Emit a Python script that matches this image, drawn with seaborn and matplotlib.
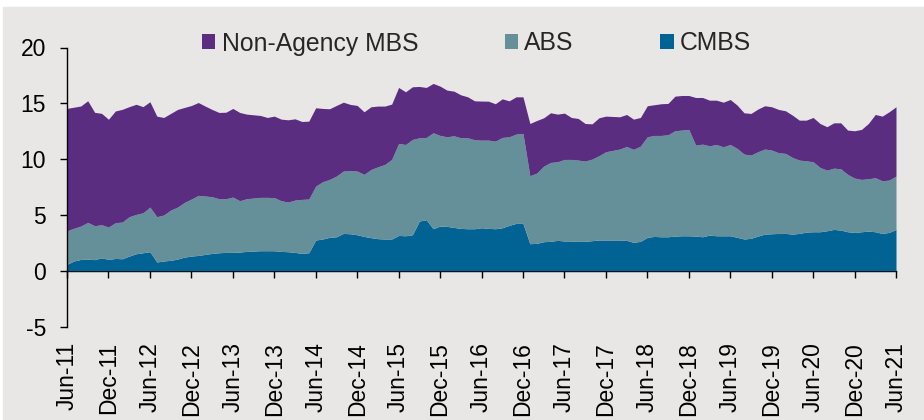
import numpy as np
import pandas as pd
import matplotlib.pyplot as plt
import seaborn as sns
from matplotlib.patches import Patch, Rectangle

# Monthly data, Jun-11 .. Jun-21 (121 months)
cmbs = [
    0.57, 0.87, 1.01, 1.04, 0.99, 1.16, 1.01, 1.10, 1.07, 1.31, 1.52, 1.61,
    1.70, 0.78, 0.87, 0.93, 1.04, 1.22, 1.31, 1.37, 1.46, 1.55, 1.61, 1.64,
    1.64, 1.67, 1.73, 1.76, 1.79, 1.79, 1.79, 1.73, 1.70, 1.64, 1.55, 1.61,
    2.75, 2.84, 2.99, 3.04, 3.34, 3.31, 3.22, 3.07, 2.96, 2.87, 2.84, 2.84,
    3.16, 3.13, 3.22, 4.45, 4.57, 3.76, 4.00, 3.97, 3.88, 3.79, 3.76, 3.76,
    3.85, 3.79, 3.76, 3.85, 4.06, 4.24, 4.24, 2.42, 2.45, 2.60, 2.63, 2.72,
    2.66, 2.66, 2.63, 2.63, 2.69, 2.75, 2.75, 2.75, 2.75, 2.72, 2.54, 2.63,
    2.99, 3.07, 3.04, 3.04, 3.10, 3.13, 3.13, 3.10, 3.04, 3.19, 3.13, 3.13,
    3.13, 2.99, 2.84, 2.90, 3.10, 3.28, 3.31, 3.34, 3.34, 3.28, 3.34, 3.46,
    3.49, 3.49, 3.58, 3.70, 3.64, 3.49, 3.43, 3.49, 3.55, 3.49, 3.34, 3.43,
    3.70,
]
abs_ = [
    3.01, 2.93, 2.99, 3.29, 3.04, 2.96, 2.90, 3.20, 3.29, 3.53, 3.52, 3.58,
    4.00, 4.06, 4.12, 4.50, 4.66, 4.90, 5.11, 5.38, 5.23, 5.08, 4.84, 4.81,
    4.96, 4.60, 4.72, 4.75, 4.78, 4.78, 4.76, 4.54, 4.45, 4.69, 4.84, 4.81,
    4.83, 5.13, 5.19, 5.44, 5.59, 5.65, 5.71, 5.56, 6.11, 6.44, 6.68, 7.13,
    8.24, 8.18, 8.54, 7.46, 7.37, 8.60, 8.12, 8.03, 8.21, 8.12, 8.15, 7.97,
    7.85, 7.91, 7.85, 8.09, 7.94, 8.00, 8.06, 6.09, 6.30, 6.77, 7.07, 7.04,
    7.31, 7.31, 7.28, 7.19, 7.31, 7.55, 7.91, 8.03, 8.15, 8.41, 8.33, 8.53,
    9.01, 9.05, 9.08, 9.14, 9.44, 9.47, 9.53, 8.15, 8.30, 8.00, 8.18, 7.97,
    8.18, 7.97, 7.61, 7.46, 7.56, 7.62, 7.50, 7.23, 7.17, 6.87, 6.57, 6.39,
    6.27, 5.76, 5.43, 5.49, 5.49, 5.14, 4.87, 4.69, 4.69, 4.84, 4.72, 4.69,
    4.78,
]
non_agency = [
    10.97, 10.85, 10.76, 10.90, 10.16, 9.98, 9.66, 10.01, 10.10, 9.86, 9.87, 9.51,
    9.44, 9.01, 8.74, 8.66, 8.75, 8.51, 8.38, 8.32, 8.06, 7.82, 7.73, 7.75,
    7.94, 7.91, 7.58, 7.46, 7.34, 7.16, 7.30, 7.31, 7.37, 7.28, 6.98, 6.98,
    7.02, 6.57, 6.33, 6.33, 6.17, 5.94, 5.88, 5.61, 5.62, 5.44, 5.23, 4.96,
    5.02, 4.72, 4.72, 4.60, 4.48, 4.42, 4.42, 4.18, 4.00, 3.85, 3.67, 3.49,
    3.50, 3.49, 3.35, 3.46, 3.22, 3.34, 3.28, 4.68, 4.71, 4.33, 4.45, 4.27,
    4.15, 3.76, 3.73, 3.37, 3.16, 3.40, 3.19, 3.04, 2.89, 2.87, 2.71, 2.57,
    2.78, 2.75, 2.84, 2.81, 3.10, 3.10, 3.04, 4.27, 4.18, 4.09, 3.97, 4.00,
    4.03, 3.88, 3.70, 3.73, 3.82, 3.88, 3.88, 3.88, 3.82, 3.79, 3.58, 3.64,
    3.97, 3.94, 3.89, 4.06, 4.12, 3.97, 4.24, 4.48, 4.95, 5.67, 5.79, 6.12,
    6.21,
]

tick_labels = [
    "Jun-11", "Dec-11", "Jun-12", "Dec-12", "Jun-13", "Dec-13", "Jun-14",
    "Dec-14", "Jun-15", "Dec-15", "Jun-16", "Dec-16", "Jun-17", "Dec-17",
    "Jun-18", "Dec-18", "Jun-19", "Dec-19", "Jun-20", "Dec-20", "Jun-21",
]

series_names = ["CMBS", "ABS", "Non-Agency MBS"]
colors = {"CMBS": "#006394", "ABS": "#65909a", "Non-Agency MBS": "#5a2d81"}

df = pd.DataFrame({"CMBS": cmbs, "ABS": abs_, "Non-Agency MBS": non_agency})
df["month"] = np.arange(len(df))

sns.set_style("white")
plt.rcParams["font.family"] = ["Liberation Sans", "DejaVu Sans"]
plt.rcParams["axes.unicode_minus"] = False

bg = "#e8e7e5"
fig = plt.figure(figsize=(9.24, 4.2), dpi=100, facecolor="white")
fig.patches.append(Rectangle((3 / 924, 0), 1, 1 - 7 / 420,
                             transform=fig.transFigure, color=bg, zorder=-10))

ax = fig.add_axes([67 / 924, 1 - 326.5 / 420, 829 / 924, 279 / 420])
ax.set_facecolor("none")

ax.stackplot(df["month"], [df[s] for s in series_names],
             colors=[colors[s] for s in series_names], linewidth=0)

ax.set_xlim(0, 120)
ax.set_ylim(-5, 20)
ax.set_yticks([-5, 0, 5, 10, 15, 20])
ax.set_xticks(np.arange(0, 121, 6))
ax.set_xticklabels(tick_labels, rotation=90)

sns.despine(ax=ax, top=True, right=True, bottom=True)
ax.spines["left"].set_linewidth(1.0)
ax.spines["left"].set_color("black")

ax.tick_params(axis="x", length=0, pad=11, labelsize=16.5, colors="black")
ax.tick_params(axis="y", direction="out", length=5, width=1.0, pad=10,
               labelsize=16.5, colors="black", left=True)

# zero line with tick marks
sec = ax.secondary_xaxis(0.2)
sec.set_xticks(np.arange(0, 121, 6))
sec.set_xticklabels([])
sec.spines["bottom"].set_linewidth(1.0)
sec.spines["bottom"].set_color("black")
sec.tick_params(axis="x", direction="out", length=5, width=1.0, colors="black")

handles = [Patch(facecolor=colors[s], edgecolor="none") for s in reversed(series_names)]
fig.legend(handles, list(reversed(series_names)), loc="center",
           bbox_to_anchor=(0.5157, 1 - 43.5 / 420), ncol=3, frameon=False,
           fontsize=17.8, handlelength=0.55, handleheight=0.55,
           handletextpad=0.25, columnspacing=3.5)

fig.savefig("out.png", dpi=100, facecolor=fig.get_facecolor())
